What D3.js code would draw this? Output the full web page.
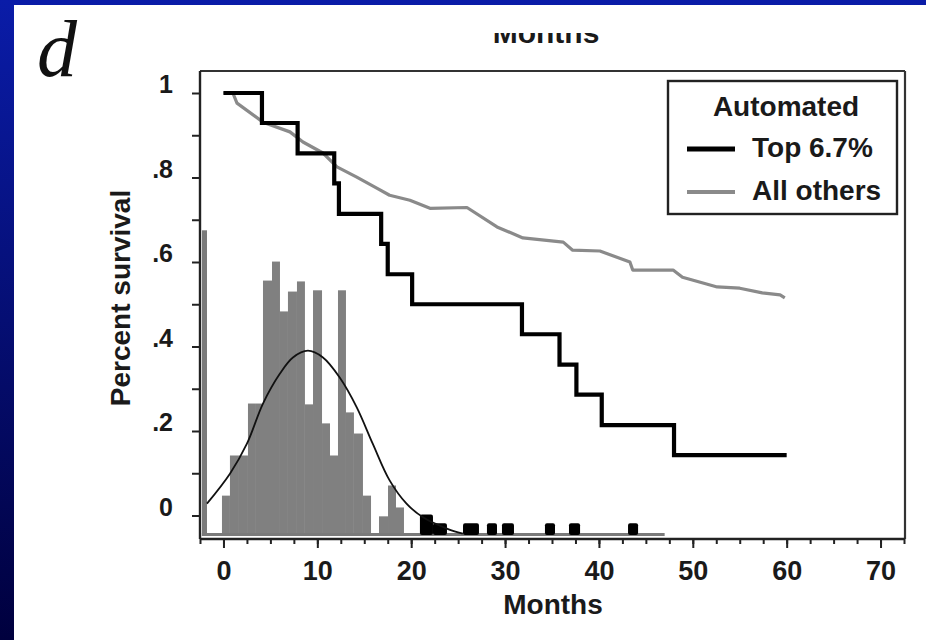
<!DOCTYPE html>
<html><head><meta charset="utf-8">
<script src="https://cdn.jsdelivr.net/npm/d3@7/dist/d3.min.js"></script>
<style>html,body{margin:0;padding:0;overflow:hidden;}svg{display:block;}</style>
</head><body>
<script>
// ---- data ----
const xTickLabels = [0, 10, 20, 30, 40, 50, 60, 70];
const yTickValues = [0, 0.2, 0.4, 0.6, 0.8, 1];
const yTickLabels = ["0", ".2", ".4", ".6", ".8", "1"];

const topMonths = [0, 4.1, 7.9, 11.8, 12.3, 16.8, 17.5, 20.1, 31.8, 35.8, 37.6, 40.3, 48.0, 60];
const topSurv   = [1, 0.929, 0.857, 0.786, 0.714, 0.643, 0.571, 0.5, 0.429, 0.357, 0.286, 0.214, 0.143, 0.143];

const othersMonths = [0, 1.0, 1.44, 4.21, 7.08, 8.47, 10.6, 12.09, 14.2, 16.33, 17.7, 19.86, 22.0, 25.94, 29.14, 31.9, 36.2, 37.2, 40.1, 43.3, 43.6, 47.9, 48.9, 52.6, 55.0, 57.4, 59.3, 59.8];
const othersSurv   = [1, 1, 0.976, 0.931, 0.908, 0.884, 0.858, 0.825, 0.801, 0.775, 0.758, 0.746, 0.727, 0.729, 0.683, 0.657, 0.647, 0.628, 0.626, 0.600, 0.581, 0.581, 0.564, 0.541, 0.538, 0.527, 0.522, 0.515];

// grey histogram (all cases): bin start (months) and height
const histStarts  = [-0.16, 0.69, 1.65, 2.61, 3.46, 4.21, 5.17, 6.02, 6.87, 7.83, 8.68, 9.54, 10.50, 11.35, 12.20, 13.05, 13.90, 14.86, 15.72, 16.57, 17.53, 18.38];
const histEnds    = [0.69, 1.65, 2.61, 3.46, 4.21, 5.17, 6.02, 6.87, 7.83, 8.68, 9.54, 10.50, 11.35, 12.20, 13.05, 13.90, 14.86, 15.72, 16.57, 17.53, 18.38, 19.23];
const histHeights = [0.092, 0.187, 0.187, 0.31, 0.31, 0.601, 0.646, 0.528, 0.575, 0.599, 0.308, 0.578, 0.263, 0.187, 0.578, 0.289, 0.239, 0.092, 0, 0.043, 0.116, 0.064];
const histAxisHeight = 0.72;
const histRange = [-2.3, 47];

// black histogram (top 6.7%)
const topHistStarts  = [20.93, 22.32, 25.52, 28.07, 29.67, 34.25, 36.81, 43.1];
const topHistEnds    = [22.32, 23.81, 27.22, 29.14, 30.95, 35.32, 37.99, 44.17];
const topHistHeights = [0.045, 0.024, 0.024, 0.024, 0.024, 0.024, 0.024, 0.024];

// fitted curve
const fitMonths = [-1.76, 0.69, 2.5, 4.21, 6.02, 7.4, 9.0, 10.6, 12.4, 14.2, 15.9, 17.7, 19.5, 21.3, 23.8, 25.5];
const fitHeights = [0.073, 0.144, 0.215, 0.31, 0.381, 0.419, 0.435, 0.419, 0.371, 0.301, 0.215, 0.128, 0.073, 0.04, 0.014, 0.002];

const legendTitle = "Automated";
const seriesNames = ["Top 6.7%", "All others"];

// ---- drawing ----
const W = 926, H = 640;
const svg = d3.select("body").append("svg").attr("width", W).attr("height", H);
const defs = svg.append("defs");
const grad = defs.append("linearGradient").attr("id", "bg").attr("x1", 0).attr("y1", 0).attr("x2", 0).attr("y2", 1);
grad.append("stop").attr("offset", "0%").attr("stop-color", "#0a1ca8");
grad.append("stop").attr("offset", "100%").attr("stop-color", "#00003e");
svg.append("rect").attr("width", W).attr("height", H).attr("fill", "url(#bg)");
svg.append("rect").attr("x", 14).attr("y", 5).attr("width", W - 14).attr("height", H - 5).attr("fill", "#fff");

const font = "'Liberation Sans', Arial, sans-serif";
const ink = "#1a1a1a";

// panel letter
svg.append("text").attr("x", 37).attr("y", 76).text("d")
  .attr("font-family", "'Liberation Serif', 'Times New Roman', serif")
  .attr("font-style", "italic").attr("font-size", 80).attr("fill", "#111");

// clipped title from previous panel
defs.append("clipPath").attr("id", "topclip").append("rect").attr("x", 0).attr("y", 33).attr("width", W).attr("height", 20);
svg.append("text").attr("x", 546).attr("y", 43).attr("text-anchor", "middle")
  .attr("clip-path", "url(#topclip)")
  .attr("font-family", font).attr("font-weight", "bold").attr("font-size", 30).attr("fill", ink).text("Months");

const x = d3.scaleLinear().domain([-2.5, 72.5]).range([200, 904]);
const y = d3.scaleLinear().domain([0, 1]).range([515.5, 93]);
const yBottom = 539, yTop = 71;
const hy = d3.scaleLinear().domain([0, 1]).range([534.5, 534.5 - 422.5]);

// histogram
const g = svg.append("g");
g.selectAll("rect.h").data(histStarts).join("rect").attr("class", "h")
  .attr("x", (d) => x(d)).attr("width", (d, i) => x(histEnds[i]) - x(d))
  .attr("y", (d, i) => hy(histHeights[i])).attr("height", (d, i) => hy(0) - hy(histHeights[i]))
  .attr("fill", "#808080");
g.append("rect").attr("x", 202).attr("width", 5).attr("y", hy(histAxisHeight)).attr("height", hy(0) - hy(histAxisHeight) + 1.5).attr("fill", "#7a7a7a");
g.append("line").attr("x1", x(histRange[0])).attr("x2", x(histRange[1])).attr("y1", hy(0)).attr("y2", hy(0))
  .attr("stroke", "#7a7a7a").attr("stroke-width", 3);
g.selectAll("rect.t").data(topHistStarts).join("rect").attr("class", "t")
  .attr("x", (d) => x(d)).attr("width", (d, i) => x(topHistEnds[i]) - x(d))
  .attr("y", (d, i) => hy(topHistHeights[i]) - 1).attr("height", (d, i) => hy(0) - hy(topHistHeights[i]) + 1.5)
  .attr("rx", 2).attr("fill", "#000");

// fitted curve
const fitLine = d3.line().x((d) => x(d)).y((d, i) => hy(fitHeights[i])).curve(d3.curveCatmullRom);
g.append("path").attr("d", fitLine(fitMonths)).attr("fill", "none").attr("stroke", "#111").attr("stroke-width", 1.8);

// survival curves
const othersLine = d3.line().x((d) => x(d)).y((d, i) => y(othersSurv[i]));
g.append("path").attr("d", othersLine(othersMonths)).attr("fill", "none").attr("stroke", "#8a8a8a").attr("stroke-width", 3.2).attr("stroke-linejoin", "round");
const topLine = d3.line().x((d) => x(d)).y((d, i) => y(topSurv[i])).curve(d3.curveStepAfter);
g.append("path").attr("d", topLine(topMonths)).attr("fill", "none").attr("stroke", "#000").attr("stroke-width", 4.2);

// frame
svg.append("line").attr("x1", 200).attr("x2", 905).attr("y1", yTop).attr("y2", yTop).attr("stroke", "#333").attr("stroke-width", 2.2);
svg.append("line").attr("x1", 905).attr("x2", 905).attr("y1", yTop).attr("y2", yBottom).attr("stroke", "#333").attr("stroke-width", 2.2);

// x axis
const xAxisG = svg.append("g").attr("transform", `translate(0,${yBottom})`);
const xMinor = d3.range(-2.5, 72.51, 2.5);
xAxisG.call(d3.axisBottom(x).tickValues(xMinor).tickSize(5).tickFormat(""));
xAxisG.call((s) => s.selectAll(".tick line").attr("stroke", "#222").attr("stroke-width", 2));
const xMajorG = svg.append("g").attr("transform", `translate(0,${yBottom})`);
xMajorG.call(d3.axisBottom(x).tickValues(xTickLabels).tickSize(9).tickPadding(13).tickFormat(d3.format("d")));
xMajorG.select(".domain").remove();
xMajorG.selectAll(".tick line").attr("stroke", "#222").attr("stroke-width", 2);
xMajorG.selectAll(".tick text").attr("font-family", font).attr("font-weight", "bold").attr("font-size", 27).attr("fill", ink);
xAxisG.select(".domain").attr("stroke", "#222").attr("stroke-width", 2.4).attr("d", `M200,0H905`);

// y axis
const yAxisG = svg.append("g").attr("transform", "translate(200,0)");
const yMinor = d3.range(0, 1.001, 0.1);
yAxisG.call(d3.axisLeft(y).tickValues(yMinor).tickSize(8).tickFormat(""));
yAxisG.select(".domain").attr("stroke", "#222").attr("stroke-width", 2.4).attr("d", `M0,${yTop}V${yBottom}`);
yAxisG.selectAll(".tick line").attr("stroke", "#222").attr("stroke-width", 2);
yAxisG.selectAll("text.yl").data(yTickValues).join("text").attr("class", "yl")
  .attr("x", -27).attr("y", (d) => y(d)).attr("text-anchor", "end")
  .attr("font-family", font).attr("font-weight", "bold").attr("font-size", 25).attr("fill", ink)
  .text((d, i) => yTickLabels[i]);

// axis titles
svg.append("text").attr("x", 553).attr("y", 614).attr("text-anchor", "middle")
  .attr("font-family", font).attr("font-weight", "bold").attr("font-size", 28).attr("fill", ink).text("Months");
svg.append("text").attr("transform", "translate(130,298) rotate(-90)").attr("text-anchor", "middle")
  .attr("font-family", font).attr("font-weight", "bold").attr("font-size", 28).attr("fill", ink).text("Percent survival");

// legend
const lg = svg.append("g");
lg.append("rect").attr("x", 668).attr("y", 81).attr("width", 229).attr("height", 133).attr("fill", "#fff").attr("stroke", "#222").attr("stroke-width", 2.4);
lg.append("text").attr("x", 786).attr("y", 116).attr("text-anchor", "middle").attr("font-family", font).attr("font-weight", "bold").attr("font-size", 28).attr("fill", ink).text(legendTitle);
const legColors = ["#000", "#8a8a8a"], legWidths = [5, 4], legY = [149, 192];
seriesNames.forEach((n, i) => {
  lg.append("line").attr("x1", 687).attr("x2", 735).attr("y1", legY[i]).attr("y2", legY[i]).attr("stroke", legColors[i]).attr("stroke-width", legWidths[i]);
  lg.append("text").attr("x", 752).attr("y", legY[i] + 8).attr("font-family", font).attr("font-weight", "bold").attr("font-size", 28).attr("fill", ink).text(n);
});
</script>
</body></html>
